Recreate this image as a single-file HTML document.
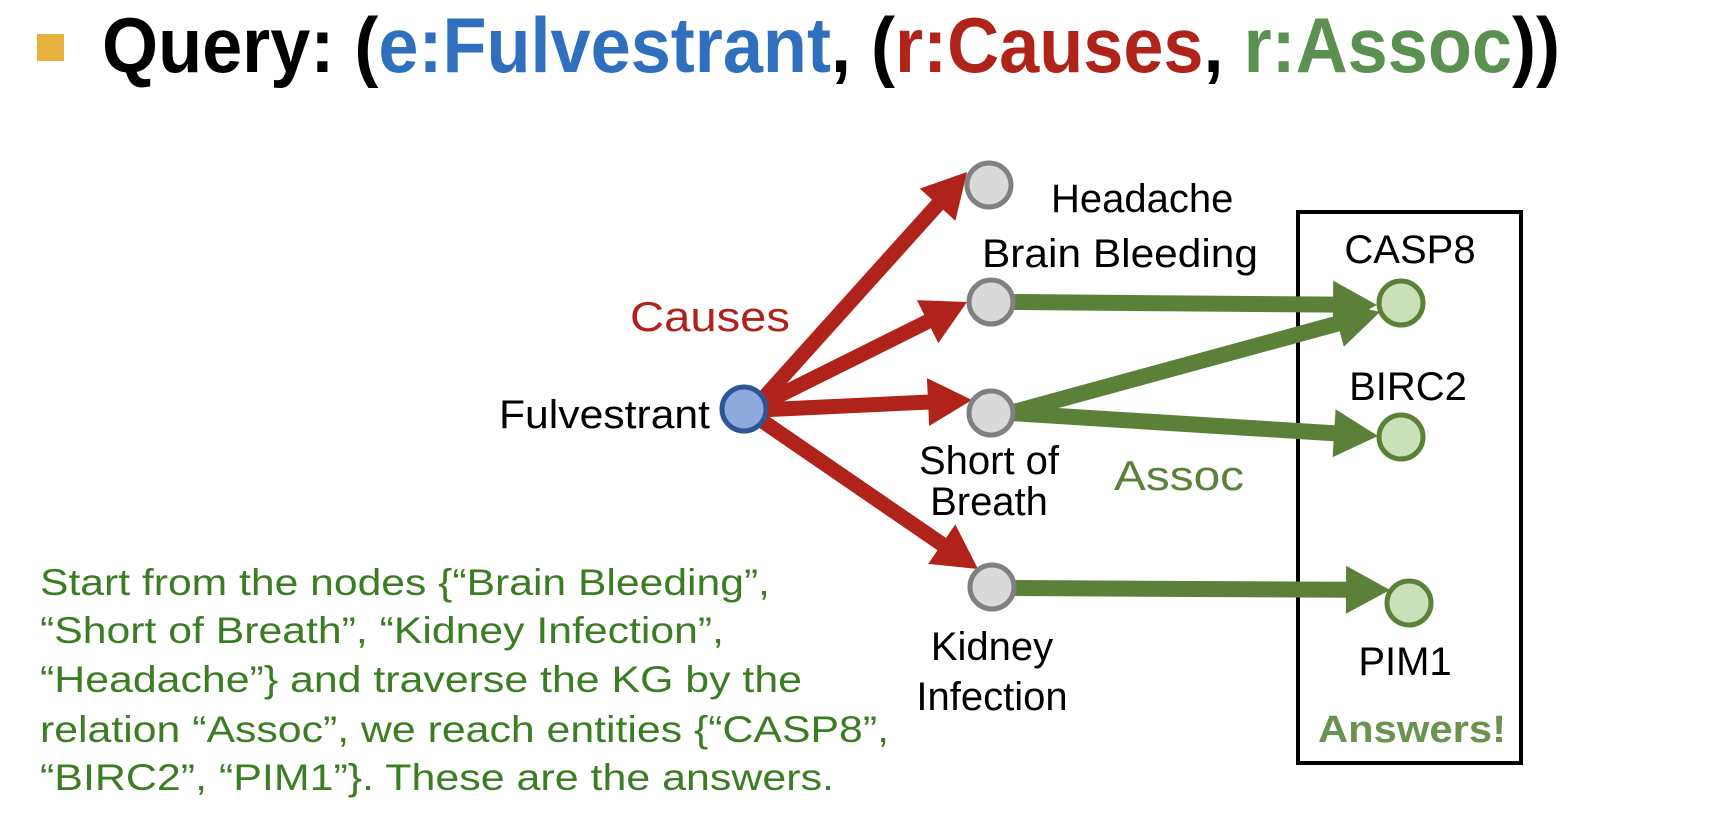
<!DOCTYPE html>
<html><head><meta charset="utf-8"><style>
html,body{margin:0;padding:0;background:#fff;}
svg{display:block;}
text{font-family:"Liberation Sans",Arial,sans-serif;}
</style></head><body>
<svg id="s" width="1718" height="814" viewBox="0 0 1718 814" xmlns="http://www.w3.org/2000/svg">
<rect x="37" y="34" width="27" height="27" fill="#e6b13c"/>
<text x="102" y="72" font-size="78" font-weight="bold" textLength="1458" lengthAdjust="spacingAndGlyphs"><tspan fill="#000">Query: (</tspan><tspan fill="#2f6fbd">e:Fulvestrant</tspan><tspan fill="#000">, (</tspan><tspan fill="#b0231a">r:Causes</tspan><tspan fill="#000">, </tspan><tspan fill="#5b9150">r:Assoc</tspan><tspan fill="#000">))</tspan></text>

<rect x="1298" y="212" width="223" height="551" fill="none" stroke="#000" stroke-width="4"/>
<g id="arrows"></g>

<circle cx="744" cy="409" r="22" fill="#8faadc" stroke="#2f5597" stroke-width="5"/>
<circle cx="989" cy="185" r="22" fill="#d9d9d9" stroke="#808080" stroke-width="5"/>
<circle cx="991" cy="302" r="22" fill="#d9d9d9" stroke="#808080" stroke-width="5"/>
<circle cx="991" cy="413" r="22" fill="#d9d9d9" stroke="#808080" stroke-width="5"/>
<circle cx="992" cy="587" r="22" fill="#d9d9d9" stroke="#808080" stroke-width="5"/>
<circle cx="1401" cy="303" r="22" fill="#c9e0b8" stroke="#5b8138" stroke-width="5"/>
<circle cx="1401" cy="437" r="22" fill="#c9e0b8" stroke="#5b8138" stroke-width="5"/>
<circle cx="1409" cy="603" r="22" fill="#c9e0b8" stroke="#5b8138" stroke-width="5"/>

<g font-size="40" fill="#000">
<text x="1051" y="212">Headache</text>
<text x="982" y="267" textLength="276" lengthAdjust="spacingAndGlyphs">Brain Bleeding</text>
<text x="1410" y="263" text-anchor="middle">CASP8</text>
<text x="499" y="428" textLength="211" lengthAdjust="spacingAndGlyphs">Fulvestrant</text>
<text x="1408" y="400" text-anchor="middle">BIRC2</text>
<text x="989" y="474" text-anchor="middle">Short of</text>
<text x="989" y="515" text-anchor="middle">Breath</text>
<text x="992" y="660" text-anchor="middle">Kidney</text>
<text x="992" y="710" text-anchor="middle">Infection</text>
<text x="1405" y="675" text-anchor="middle">PIM1</text>
</g>
<text x="630" y="331" font-size="42" fill="#b0231a" textLength="160" lengthAdjust="spacingAndGlyphs">Causes</text>
<text x="1114" y="490" font-size="42" fill="#5b8138" textLength="130" lengthAdjust="spacingAndGlyphs">Assoc</text>
<text x="1318" y="742" font-size="38" font-weight="bold" fill="#6a9350" textLength="188" lengthAdjust="spacingAndGlyphs">Answers!</text>

<g font-size="37" fill="#3b7d23">
<text x="40" y="595" textLength="730" lengthAdjust="spacingAndGlyphs">Start from the nodes {“Brain Bleeding”,</text>
<text x="40" y="643" textLength="684" lengthAdjust="spacingAndGlyphs">“Short of Breath”, “Kidney Infection”,</text>
<text x="40" y="692" textLength="762" lengthAdjust="spacingAndGlyphs">“Headache”} and traverse the KG by the</text>
<text x="40" y="742" textLength="849" lengthAdjust="spacingAndGlyphs">relation “Assoc”, we reach entities {“CASP8”,</text>
<text x="40" y="790" textLength="794" lengthAdjust="spacingAndGlyphs">“BIRC2”, “PIM1”}. These are the answers.</text>
</g>
</svg>
<script>
(function(){
var g=document.getElementById('arrows');
var NS='http://www.w3.org/2000/svg';
function arrow(x1,y1,x2,y2,col,w){
 var dx=x2-x1,dy=y2-y1,L=Math.sqrt(dx*dx+dy*dy),ux=dx/L,uy=dy/L,px=-uy,py=ux;
 var hl=44,hw=24;
 var bx=x2-ux*hl,by=y2-uy*hl;
 var l=document.createElementNS(NS,'line');
 l.setAttribute('x1',x1);l.setAttribute('y1',y1);l.setAttribute('x2',bx+ux*2);l.setAttribute('y2',by+uy*2);
 l.setAttribute('stroke',col);l.setAttribute('stroke-width',w);g.appendChild(l);
 var p=document.createElementNS(NS,'polygon');
 p.setAttribute('points',x2+','+y2+' '+(bx+px*hw)+','+(by+py*hw)+' '+(bx-px*hw)+','+(by-py*hw));
 p.setAttribute('fill',col);g.appendChild(p);
}
var R='#b0231a',G='#5b8138';
arrow(760,402,967,172,R,15);
arrow(760,405,967,302,R,15);
arrow(760,410,972,400,R,15);
arrow(758,418,978,569,R,15);
arrow(1010,302,1377,305,G,16);
arrow(1010,413,1380,312,G,16);
arrow(1010,413,1378,436,G,16);
arrow(1012,588,1390,590,G,16);
})();
</script>
</body></html>
